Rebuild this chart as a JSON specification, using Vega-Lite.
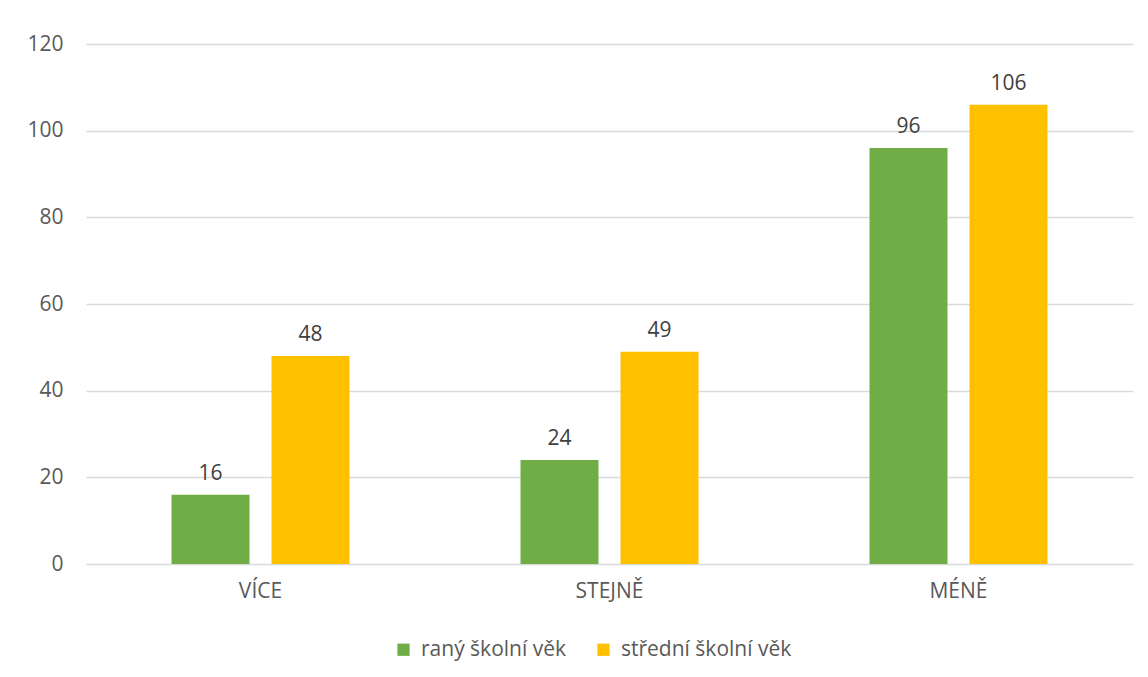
{
  "$schema": "https://vega.github.io/schema/vega-lite/v6.json",
  "width": 1047,
  "height": 520,
  "autosize": {"type": "none"},
  "padding": {"left": 86, "top": 44, "right": 15, "bottom": 113},
  "background": "white",
  "config": {
    "font": "Open Sans",
    "view": {"stroke": null},
    "axis": {"labelFont": "Open Sans", "labelColor": "#595959", "labelFontSize": 21, "ticks": false, "domain": false, "title": null},
    "legend": {"labelFont": "Open Sans", "labelColor": "#595959", "labelFontSize": 21}
  },
  "data": {
    "values": [
      {"kategorie": "VÍCE", "skupina": "raný školní věk", "pocet": 16},
      {"kategorie": "VÍCE", "skupina": "střední školní věk", "pocet": 48},
      {"kategorie": "STEJNĚ", "skupina": "raný školní věk", "pocet": 24},
      {"kategorie": "STEJNĚ", "skupina": "střední školní věk", "pocet": 49},
      {"kategorie": "MÉNĚ", "skupina": "raný školní věk", "pocet": 96},
      {"kategorie": "MÉNĚ", "skupina": "střední školní věk", "pocet": 106}
    ]
  },
  "encoding": {
    "x": {
      "field": "kategorie", "type": "nominal", "sort": ["VÍCE", "STEJNĚ", "MÉNĚ"],
      "scale": {"paddingInner": 0, "paddingOuter": 0},
      "axis": {"labelAngle": 0, "labelPadding": 16, "grid": false}
    },
    "xOffset": {
      "field": "skupina", "type": "nominal",
      "scale": {"paddingInner": 0.22, "paddingOuter": 0.855}
    },
    "y": {
      "field": "pocet", "type": "quantitative",
      "scale": {"domain": [0, 120], "nice": false},
      "axis": {"values": [0, 20, 40, 60, 80, 100, 120], "grid": true, "gridColor": "#d9d9d9", "gridWidth": 1.3, "labelPadding": 23}
    }
  },
  "layer": [
    {
      "mark": {"type": "bar"},
      "encoding": {
        "color": {
          "field": "skupina", "type": "nominal",
          "scale": {"domain": ["raný školní věk", "střední školní věk"], "range": ["#70ad47", "#ffc000"]},
          "legend": {"title": null, "orient": "none", "legendX": 307, "legendY": 595, "direction": "horizontal", "symbolType": "square", "symbolSize": 150, "symbolStrokeWidth": 0, "columnPadding": 26, "labelOffset": 7, "labelLimit": 300}
        }
      }
    },
    {
      "mark": {"type": "text", "baseline": "bottom", "dy": -11, "fontSize": 21, "color": "#404040", "font": "Open Sans"},
      "encoding": {"text": {"field": "pocet", "type": "quantitative"}}
    }
  ]
}
